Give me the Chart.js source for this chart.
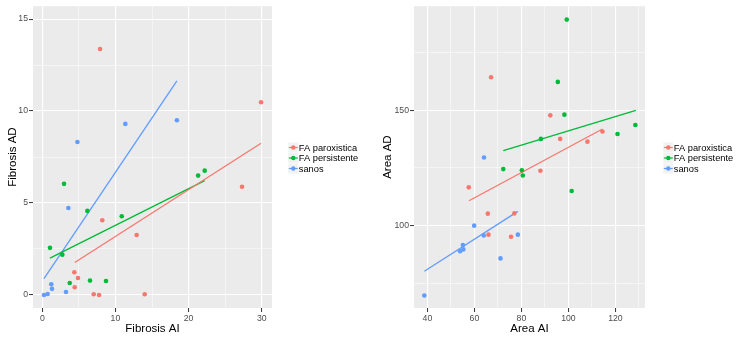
<!DOCTYPE html>
<html>
<head>
<meta charset="utf-8">
<script src="https://cdn.jsdelivr.net/npm/chart.js@4.4.1/dist/chart.umd.min.js"></script>
<style>
  body { margin: 0; background: #fff; }
  .panel { position: absolute; top: 0; width: 375px; height: 341px; }
</style>
</head>
<body>
<div class="panel" style="left:0"><canvas id="fibrosis"></canvas></div>
<div class="panel" style="left:375px"><canvas id="area"></canvas></div>
<script>
const groups = ["FA paroxistica", "FA persistente", "sanos"];
const colors = ["#F8766D", "#00BA38", "#619CFF"];

// Fibrosis AI / AD
const fibParX = [7.9, 29.9, 27.3, 8.2, 12.9, 4.38, 4.88, 4.43, 7.03, 7.76, 14.0];
const fibParY = [13.37, 10.48, 5.88, 4.06, 3.26, 1.23, 0.92, 0.42, 0.04, 0.0, 0.04];
const fibPerX = [2.97, 21.3, 22.2, 6.16, 10.86, 1.05, 2.74, 3.75, 6.52, 8.71];
const fibPerY = [6.04, 6.49, 6.76, 4.57, 4.28, 2.56, 2.19, 0.65, 0.78, 0.76];
const fibSanX = [4.8, 11.35, 18.4, 3.56, 1.23, 1.33, 3.24, 0.23, 0.73];
const fibSanY = [8.32, 9.3, 9.5, 4.73, 0.58, 0.33, 0.16, 0.0, 0.05];
// fitted lines: [x0, y0, x1, y1]
const fibFitPar = [4.43, 1.76, 29.9, 8.25];
const fibFitPer = [1.05, 2.0, 22.2, 6.22];
const fibFitSan = [0.23, 0.89, 18.4, 11.64];
const fibXTicks = [0, 5, 10, 15, 20, 25, 30];
const fibXMajor = [0, 10, 20, 30];
const fibYTicks = [0, 2.5, 5, 7.5, 10, 12.5, 15];
const fibYMajor = [0, 5, 10, 15];

// Area AI / AD
const areaParX = [67.1, 92.3, 114.5, 96.5, 108.1, 88.1, 57.6, 65.7, 77.0, 66.0, 75.6];
const areaParY = [164.3, 147.8, 140.8, 137.6, 136.4, 123.8, 116.6, 105.2, 105.3, 96.1, 95.2];
const areaPerX = [99.3, 95.5, 98.3, 128.5, 120.9, 88.3, 72.3, 80.2, 80.6, 101.4];
const areaPerY = [189.3, 162.3, 148.1, 143.6, 139.7, 137.6, 124.5, 124.0, 121.7, 115.0];
const areaSanX = [64.1, 59.9, 64.0, 78.5, 55.1, 55.3, 53.9, 71.1, 38.7];
const areaSanY = [129.5, 100.0, 95.7, 96.1, 91.6, 89.7, 88.9, 85.8, 69.7];
const areaFitPar = [57.7, 110.8, 114.5, 141.9];
const areaFitPer = [72.3, 132.5, 128.7, 150.0];
const areaFitSan = [38.7, 80.2, 78.5, 106.2];
const areaXTicks = [40, 50, 60, 70, 80, 90, 100, 110, 120, 130];
const areaXMajor = [40, 60, 80, 100, 120];
const areaYTicks = [75, 100, 125, 150, 175];
const areaYMajor = [100, 150];

const FONT = "'Liberation Sans', Arial, sans-serif";

function pts(xs, ys) {
  return xs.map((x, i) => ({ x: x, y: ys[i] }));
}

const panelBg = {
  id: "panelBg",
  beforeDraw(chart) {
    const a = chart.chartArea, ctx = chart.ctx;
    ctx.save();
    ctx.fillStyle = "#EBEBEB";
    ctx.fillRect(a.left, a.top, a.right - a.left, a.bottom - a.top);
    ctx.restore();
  },
};

// ggplot-like legend: grey key with line + dot
function legendPlugin(keyX) {
  return {
    id: "ggLegend",
    afterDraw(chart) {
      const ctx = chart.ctx;
      const rows = [147.5, 158, 168.5];
      ctx.save();
      groups.forEach((g, i) => {
        const y = rows[i];
        ctx.fillStyle = "#F2F2F2";
        ctx.fillRect(keyX - 5, y - 5, 10, 10);
        ctx.strokeStyle = colors[i];
        ctx.lineWidth = 1.2;
        ctx.beginPath();
        ctx.moveTo(keyX - 4.5, y);
        ctx.lineTo(keyX + 4.5, y);
        ctx.stroke();
        ctx.fillStyle = colors[i];
        ctx.beginPath();
        ctx.arc(keyX, y, 2.2, 0, Math.PI * 2);
        ctx.fill();
        ctx.fillStyle = "#000";
        ctx.font = "9.3px " + FONT;
        ctx.textBaseline = "middle";
        ctx.fillText(g, keyX + 5.5, y + 0.5);
      });
      ctx.restore();
    },
  };
}

function axis(min, max, ticks, major, title, fitSize, isX) {
  return {
    type: "linear",
    min: min,
    max: max,
    afterBuildTicks: (s) => { s.ticks = ticks.map((v) => ({ value: v })); },
    afterFit: (s) => { if (isX) s.height = fitSize; else s.width = fitSize; },
    border: { display: false },
    grid: {
      color: "#FFFFFF",
      lineWidth: (c) => (major.includes(c.tick.value) ? 1.1 : 0.5),
      tickLength: 4,
      tickWidth: 1,
      tickColor: (c) => (major.includes(c.tick.value) ? "#333333" : "rgba(0,0,0,0)"),
    },
    ticks: {
      autoSkip: false,
      maxRotation: 0,
      padding: 1,
      color: "#4D4D4D",
      font: { family: FONT, size: 8.7 },
      callback: (v) => (major.includes(v) ? String(v) : ""),
    },
    title: {
      display: true,
      text: title,
      color: "#000",
      font: { family: FONT, size: 11.5 },
      padding: isX ? { top: 0, bottom: 5 } : { top: 6, bottom: 0 },
    },
  };
}

function makePanel(id, sets, fits, xs, ys, titles, yWidth, padRight, keyX) {
  const datasets = [];
  sets.forEach((d, i) => {
    datasets.push({
      label: groups[i],
      data: d,
      backgroundColor: colors[i],
      borderColor: colors[i],
      pointRadius: 2.3,
      pointBorderWidth: 0,
      showLine: false,
    });
  });
  fits.forEach((f, i) => {
    datasets.push({
      label: groups[i] + " fit",
      data: [{ x: f[0], y: f[1] }, { x: f[2], y: f[3] }],
      borderColor: colors[i],
      borderWidth: 1.3,
      pointRadius: 0,
      showLine: true,
    });
  });
  new Chart(document.getElementById(id), {
    type: "scatter",
    data: { datasets: datasets },
    options: {
      responsive: true,
      maintainAspectRatio: false,
      animation: false,
      layout: { padding: { top: 6, right: padRight, left: 0, bottom: 0 } },
      scales: {
        x: axis(xs[0], xs[1], xs[2], xs[3], titles[0], 33, true),
        y: axis(ys[0], ys[1], ys[2], ys[3], titles[1], yWidth, false),
      },
      plugins: {
        legend: { display: false },
        tooltip: { enabled: false },
      },
    },
    plugins: [panelBg, legendPlugin(keyX)],
  });
}

makePanel(
  "fibrosis",
  [pts(fibParX, fibParY), pts(fibPerX, fibPerY), pts(fibSanX, fibSanY)],
  [fibFitPar, fibFitPer, fibFitSan],
  [-1.27, 31.4, fibXTicks, fibXMajor],
  [-0.71, 15.7, fibYTicks, fibYMajor],
  ["Fibrosis AI", "Fibrosis AD"],
  33,
  103,
  293.3
);

makePanel(
  "area",
  [pts(areaParX, areaParY), pts(areaPerX, areaPerY), pts(areaSanX, areaSanY)],
  [areaFitPar, areaFitPer, areaFitSan],
  [34.3, 132.6, areaXTicks, areaXMajor],
  [64.3, 195.1, areaYTicks, areaYMajor],
  ["Area AI", "Area AD"],
  39,
  105,
  293.3
);
</script>
</body>
</html>
